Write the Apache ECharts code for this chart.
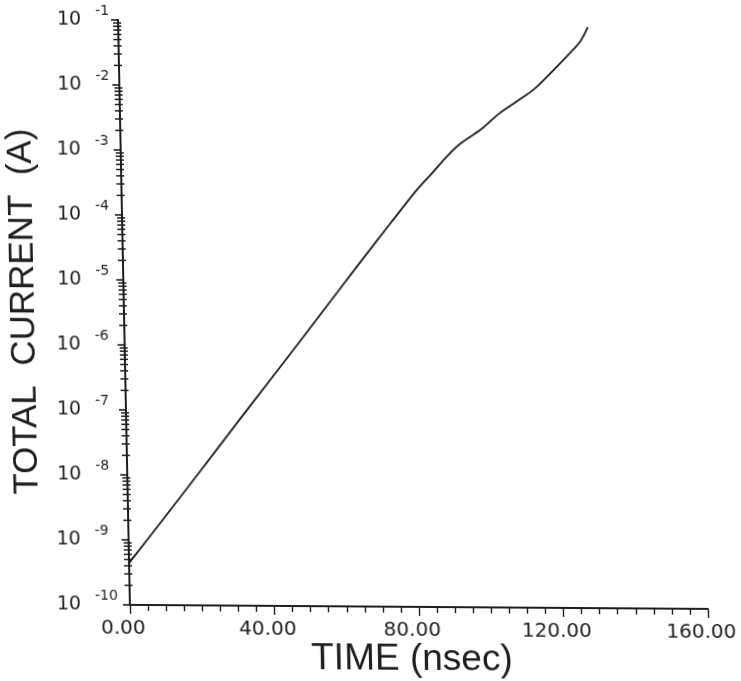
<!DOCTYPE html>
<html>
<head>
<meta charset="utf-8">
<script src="https://cdn.jsdelivr.net/npm/echarts@6/dist/echarts.min.js"></script>
<style>
  html, body { margin: 0; padding: 0; background: #ffffff; }
  #chart {
    width: 741px; height: 681px;
    /* plotter sheet sits slightly sheared on the page */
    transform-origin: 130px 609px;
    transform: matrix(1, 0.007, 0.0203, 1, 0, 0);
  }
</style>
</head>
<body>
<div id="chart"></div>
<script>
// Total current vs. time (log scale)
const timeNs = [0, 10, 20, 30, 40, 50, 60, 70, 77, 82, 86, 90, 94, 100, 105, 110, 115, 120, 125, 128, 130];
const currentA = [4.4e-10, 2.2e-9, 1.12e-8, 5.8e-8, 2.95e-7, 1.5e-6, 7.8e-6, 4.0e-5, 1.23e-4, 2.7e-4,
                  4.7e-4, 8.3e-4, 1.35e-3, 2.3e-3, 4.0e-3, 6.2e-3, 9.8e-3, 1.82e-2, 3.5e-2, 5.4e-2, 8.7e-2];
const xTicks = [0, 40, 80, 120, 160];
const yDecades = [-10, -9, -8, -7, -6, -5, -4, -3, -2, -1];

const ink = '#1e1e1e';
const labelFont = 'DejaVu Sans';
const titleFont = 'Liberation Sans';

// logarithmic minor ticks (2..9 within every decade)
const minorTicks = [];
for (let i = 0; i < yDecades.length - 1; i++) {
  for (let k = 2; k <= 9; k++) minorTicks.push([0, k * Math.pow(10, yDecades[i])]);
}

// decade labels keep a straight left edge although the axis line leans
const yLabelRich = {
  s: { fontFamily: labelFont, fontSize: 14, color: ink, lineHeight: 16, verticalAlign: 'top' }
};
yDecades.forEach((d, i) => {
  yLabelRich['b' + i] = {
    fontFamily: labelFont, fontSize: 19, color: ink, lineHeight: 32,
    padding: [0, 14, 0, Math.round(i * 1.33)]
  };
});

const chart = echarts.init(document.getElementById('chart'), null, { renderer: 'canvas' });
chart.setOption({
  backgroundColor: '#ffffff',
  animation: false,
  grid: { left: 130, right: 33, top: 20, bottom: 72 },
  xAxis: {
    type: 'value',
    min: xTicks[0],
    max: xTicks[xTicks.length - 1],
    interval: 40,
    name: 'TIME (nsec)',
    nameLocation: 'middle',
    nameGap: 34,
    nameMoveOverlap: false,
    nameTextStyle: { fontFamily: titleFont, fontSize: 37, color: ink, verticalAlign: 'top', padding: [0, 16, 0, 0] },
    axisLine: { lineStyle: { color: ink, width: 1.8 } },
    axisTick: { show: true, length: 9, lineStyle: { color: ink, width: 1.4 } },
    minorTick: { show: true, splitNumber: 8, length: 6, lineStyle: { color: ink, width: 1.4 } },
    splitLine: { show: false },
    axisLabel: {
      margin: 14,
      padding: [0, 14, 0, 0],
      fontFamily: labelFont, fontSize: 20, color: ink,
      formatter: v => v.toFixed(2)
    }
  },
  yAxis: {
    type: 'log',
    logBase: 10,
    min: Math.pow(10, yDecades[0]),
    max: Math.pow(10, yDecades[yDecades.length - 1]),
    interval: 1,
    name: 'TOTAL  CURRENT  (A)',
    nameLocation: 'middle',
    nameRotate: 90,
    nameGap: 82,
    nameMoveOverlap: false,
    nameTextStyle: { fontFamily: titleFont, fontSize: 35, color: ink },
    axisLine: { lineStyle: { color: ink, width: 2 } },
    axisTick: { show: true, length: 7, lineStyle: { color: ink, width: 1.6 } },
    splitLine: { show: false },
    axisLabel: {
      margin: 73,
      align: 'left',
      formatter: v => {
        const n = Math.round(Math.log10(v));
        return '{b' + (n - yDecades[0]) + '|10}{s|' + n + '}';
      },
      rich: yLabelRich
    }
  },
  series: [
    {
      type: 'custom',
      silent: true,
      clip: false,
      z: 5,
      data: minorTicks,
      renderItem: (params, api) => {
        const p = api.coord([api.value(0), api.value(1)]);
        return {
          type: 'line',
          shape: { x1: p[0] - 5, y1: p[1], x2: p[0] + 3, y2: p[1] },
          style: { stroke: ink, lineWidth: 1.5 }
        };
      }
    },
    {
      type: 'line',
      data: timeNs.map((t, i) => [t, currentA[i]]),
      smooth: 0.35,
      showSymbol: false,
      lineStyle: { color: ink, width: 1.8 }
    }
  ]
});
</script>
</body>
</html>
